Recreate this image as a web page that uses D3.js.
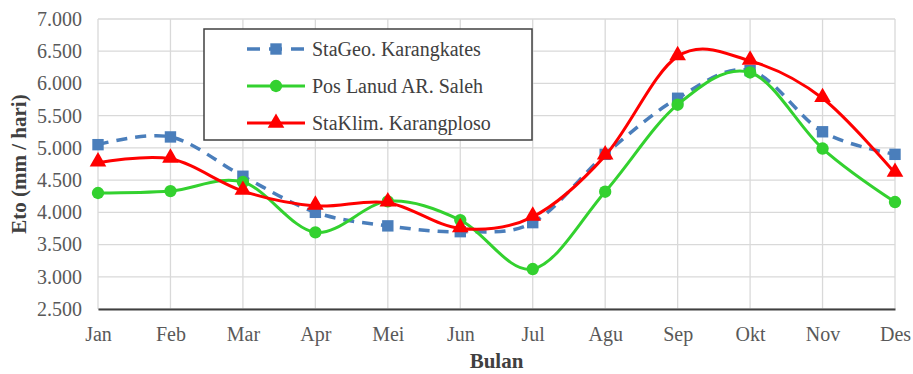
<!DOCTYPE html>
<html><head><meta charset="utf-8">
<script src="https://cdn.jsdelivr.net/npm/d3@7"></script>
<style>body{margin:0;background:#fff}svg{display:block}</style>
</head><body>
<svg id="c" width="913" height="374"></svg>
<script>
const months = ["Jan","Feb","Mar","Apr","Mei","Jun","Jul","Agu","Sep","Okt","Nov","Des"];
const stageo = [5.05,5.17,4.56,4.00,3.79,3.70,3.84,4.90,5.77,6.20,5.25,4.90];
const poslanud = [4.30,4.33,4.47,3.69,4.17,3.88,3.12,4.32,5.67,6.17,4.99,4.16];
const staklim = [4.77,4.83,4.33,4.10,4.15,3.75,3.93,4.88,6.42,6.35,5.77,4.61];
const yTicks = [2.5,3.0,3.5,4.0,4.5,5.0,5.5,6.0,6.5,7.0];
const seriesNames = ["StaGeo. Karangkates","Pos Lanud AR. Saleh","StaKlim. Karangploso"];

const svg = d3.select("#c");
const L=98,R=895,T=19,B=309;
const x = d3.scalePoint().domain(months).range([L,R]);
const y = d3.scaleLinear().domain([2.5,7]).range([B,T]);
const font = "'Liberation Serif','Times New Roman',serif";

// grid
svg.append("g").selectAll("line").data(yTicks).join("line")
  .attr("x1",L).attr("x2",R).attr("y1",d=>y(d)).attr("y2",d=>y(d))
  .attr("stroke","#d9d9d9").attr("stroke-width",1.3);
svg.append("g").selectAll("line").data(months).join("line")
  .attr("x1",d=>x(d)).attr("x2",d=>x(d)).attr("y1",T).attr("y2",B)
  .attr("stroke","#d9d9d9").attr("stroke-width",1.3);

// axes
const yAxis = d3.axisLeft(y).tickValues(yTicks).tickFormat(d3.format(".3f")).tickSize(0).tickPadding(16);
const gy = svg.append("g").attr("transform",`translate(${L},0)`).call(yAxis);
gy.select(".domain").remove();
gy.selectAll("text").attr("font-family",font).attr("font-size",20).attr("fill","#595959");

const xAxis = d3.axisBottom(x).tickSize(0).tickPadding(18);
const gx = svg.append("g").attr("transform",`translate(0,${B})`).call(xAxis);
gx.select(".domain").attr("stroke","#404040").attr("stroke-width",1.8);
gx.selectAll("text").attr("font-family",font).attr("font-size",20).attr("fill","#595959");

// titles
svg.append("text").attr("x",(L+R)/2).attr("y",368).attr("text-anchor","middle")
  .attr("font-family",font).attr("font-size",21).attr("font-weight","bold").attr("fill","#404040").text("Bulan");
svg.append("text").attr("transform",`translate(26,${(T+B)/2}) rotate(-90)`).attr("text-anchor","middle")
  .attr("font-family",font).attr("font-size",21).attr("font-weight","bold").attr("fill","#404040").text("Eto (mm / hari)");

const line = d3.line().x((d,i)=>x(months[i])).y(d=>y(d)).curve(d3.curveCardinal.tension(0));

const blue="#4a7ebb", green="#33d12f", red="#ff0000";
const sym = {
  square: d3.symbol().type(d3.symbolSquare).size(130),
  circle: d3.symbol().type(d3.symbolCircle).size(120),
  triangle: d3.symbol().type(d3.symbolTriangle).size(120)
};
const series = [
  {name:seriesNames[0], data:stageo, color:blue, dash:"11,8", sym:"square", w:3.5},
  {name:seriesNames[1], data:poslanud, color:green, dash:null, sym:"circle", w:3},
  {name:seriesNames[2], data:staklim, color:red, dash:null, sym:"triangle", w:3}
];
series.forEach(s=>{
  svg.append("path").attr("d",line(s.data)).attr("fill","none").attr("stroke",s.color)
    .attr("stroke-width",s.w).attr("stroke-dasharray",s.dash);
  svg.append("g").selectAll("path").data(s.data).join("path")
    .attr("d",sym[s.sym]).attr("transform",(d,i)=>`translate(${x(months[i])},${y(d)-(s.sym==="triangle"?1:0)})`)
    .attr("fill",s.color);
});

// legend
const lg = svg.append("g");
lg.append("rect").attr("x",204).attr("y",29).attr("width",328).attr("height",111)
  .attr("fill","#fff").attr("stroke","#404040").attr("stroke-width",1.5);
series.forEach((s,i)=>{
  const cy = 49 + i*37;
  lg.append("line").attr("x1",247).attr("x2",305).attr("y1",cy).attr("y2",cy)
    .attr("stroke",s.color).attr("stroke-width",s.w).attr("stroke-dasharray",s.dash?"13,9":null)
    .attr("stroke-dashoffset",s.dash?0:null);
  lg.append("path").attr("d",sym[s.sym]).attr("transform",`translate(276,${cy})`).attr("fill",s.color);
  lg.append("text").attr("x",312).attr("y",cy).attr("dy","0.35em").attr("font-family",font)
    .attr("font-size",20).attr("fill","#404040").text(s.name);
});
</script>
</body></html>
